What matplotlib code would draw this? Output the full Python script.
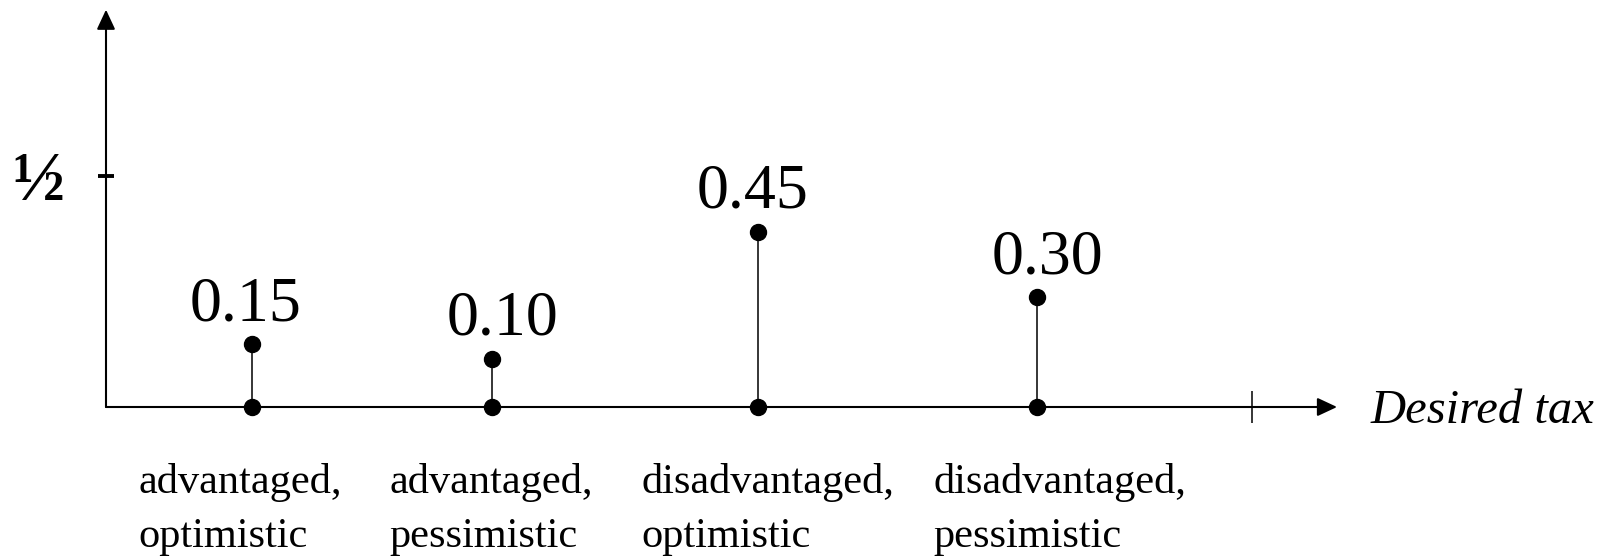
import matplotlib
matplotlib.use("Agg")
import matplotlib.pyplot as plt

# ---- data ----
categories = ["advantaged,\noptimistic", "advantaged,\npessimistic",
              "disadvantaged,\noptimistic", "disadvantaged,\npessimistic"]
desired_tax = [0.127, 0.337, 0.569, 0.812]     # horizontal position (end tick = 1)
heights = [0.136, 0.104, 0.379, 0.238]         # drawn stem height (tick = 1/2)
value_labels = ["0.15", "0.10", "0.45", "0.30"]
ytick_vals = [0.5]
ytick_labels = ["½"]
xtick_vals = [1.0]
xlabel = "Desired tax"

# ---- layout (text nudges, in points) ----
value_dx = [-4, 7.5, -4, 8]
cat_dx = [-81.7, -74.3, -83.9, -74.3]

W, H, DPI = 1614, 557, 100
fig = plt.figure(figsize=(W / DPI, H / DPI), dpi=DPI)
ax = fig.add_axes([106 / W, 150 / H, 1146 / W, 231 / H])
ax.set_xlim(0, 1)
ax.set_ylim(0, 0.5)
for s in ax.spines.values():
    s.set_visible(False)

serif = ["Liberation Serif", "DejaVu Serif"]

# axes with arrows
arrow = dict(arrowstyle="-|>,head_length=0.6,head_width=0.28", mutation_scale=20,
             color="black", lw=1.5, shrinkA=0, shrinkB=0)
ax.annotate("", xy=(0, 1.72), xytext=(0, 0), xycoords="axes fraction",
            textcoords="axes fraction", arrowprops=arrow, annotation_clip=False)
ax.annotate("", xy=(1.0742, 0), xytext=(0, 0), xycoords="axes fraction",
            textcoords="axes fraction", arrowprops=arrow, annotation_clip=False)

# ticks
ax.set_yticks(ytick_vals)
ax.set_yticklabels(ytick_labels, fontfamily=serif, fontweight="bold", fontsize=50)
ax.tick_params(axis="y", direction="inout", length=11.5, width=2.8, pad=24)
ax.set_xticks(xtick_vals)
ax.set_xticklabels([])
ax.tick_params(axis="x", direction="inout", length=22.5, width=1.1)

# stems
ax.vlines(desired_tax, 0, heights, color="black", lw=1.1, zorder=3, clip_on=False)
ax.plot(desired_tax, heights, "o", color="black", ms=11.5, zorder=4, clip_on=False)
ax.plot(desired_tax, [0] * len(desired_tax), "o", color="black", ms=11.5, zorder=4,
        clip_on=False)

# value labels
for x, h, lab, dx in zip(desired_tax, heights, value_labels, value_dx):
    ax.annotate(lab, (x, h), xytext=(dx, 17.3), textcoords="offset points",
                ha="center", va="baseline", fontsize=46, fontfamily=serif,
                annotation_clip=False)

# category labels (va='baseline' aligns the last line)
for x, cat, dx in zip(desired_tax, categories, cat_dx):
    ax.annotate(cat, (x, 0), xytext=(dx, -101), textcoords="offset points",
                ha="left", va="baseline", fontsize=30.5, fontfamily=serif,
                linespacing=1.55, annotation_clip=False)

# axis label
ax.annotate(xlabel, (1, 0), xytext=(85, -11.5),
            textcoords="offset points", ha="left", va="baseline", fontsize=35,
            fontstyle="italic", fontfamily=serif, annotation_clip=False)

fig.savefig("out.png", dpi=DPI)
